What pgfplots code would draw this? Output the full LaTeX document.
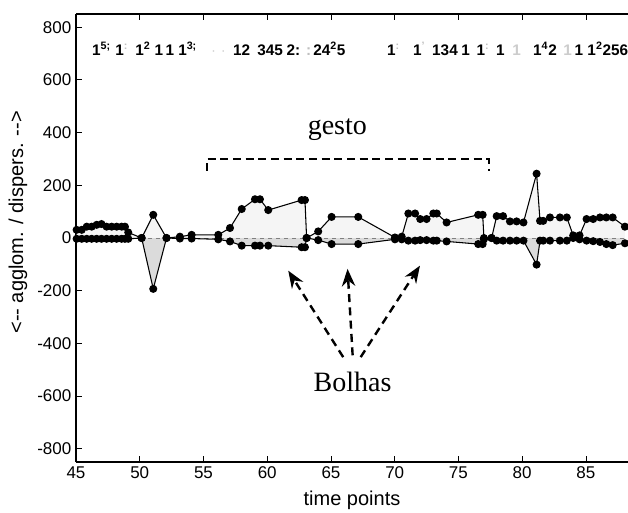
\documentclass[border=0pt]{standalone}
\usepackage{pgfplots}
\pgfplotsset{compat=1.18}
\usepackage{pgfplotstable}
\usepackage{fontspec}
\setmainfont{Liberation Sans}
\newfontfamily\timesfont{Liberation Serif}
\usetikzlibrary{arrows.meta}

\pgfplotstableread{
x y
45.05 31
45.45 31
45.84 43
46.23 43
46.62 50
47.0 53
47.4 43
47.8 43
48.19 43
48.58 43
48.84 43
49.1 21
50.15 0
51.06 88
52.1 0
53.15 5
54.07 12
56.16 12
57.08 38
58.0 110
59.04 147
59.43 147
60.08 106
62.7 144
62.96 144
63.09 0
64.0 25
65.05 80
67.14 80
70.02 2
70.55 5
71.07 93
71.6 93
72.0 72
72.5 72
73.03 93
73.3 93
74.07 59
76.55 88
76.9 88
77.0 0
77.6 0
78.0 83
78.5 83
79.04 63
79.56 63
80.1 59
81.13 244
81.4 65
81.65 65
82.18 78
82.96 78
83.5 78
84.0 10
84.5 10
85.05 72
85.57 72
86.1 78
86.6 78
87.1 78
88.06 43
}\upperdata

\pgfplotstableread{
x y
45.05 -3
45.45 -3
45.84 -3
46.23 -3
46.62 -3
47.0 -3
47.4 -3
47.8 -3
48.19 -3
48.58 -3
48.84 -3
49.1 -3
50.15 0
51.06 -193
52.1 0
53.15 -2
54.07 -2
56.16 -5
57.08 -13
58.0 -29
59.04 -29
59.43 -29
60.08 -29
62.7 -35
62.96 -35
63.09 0
64.0 -8
65.05 -23
67.14 -23
70.02 -5
70.55 -5
71.07 -10
71.6 -10
72.0 -8
72.5 -8
73.03 -10
73.3 -10
74.07 -13
76.55 -23
76.9 -23
77.0 -5
77.6 0
78.0 -10
78.5 -10
79.04 -10
79.56 -10
80.1 -10
81.13 -101
81.4 -10
81.65 -10
82.18 -10
82.96 -10
83.5 -10
84.0 0
84.5 -5
85.05 -10
85.57 -12
86.1 -15
86.6 -23
87.1 -27
88.06 -20
}\lowerdata

\begin{document}
\begin{tikzpicture}
\begin{axis}[
  name=ax,
  scale only axis,
  width=414pt, height=336pt,
  xmin=45, xmax=88.3,
  ymin=-850, ymax=850,
  axis x line=box,
  axis y line=left,
  axis line style={-, black, line width=0.8pt},
  xtick={45,50,...,85},
  ytick={-800,-600,...,800},
  tick align=inside,
  major tick length=4.5pt,
  tick style={black, line width=0.6pt},
  /pgf/number format/assume math mode=true,
  ticklabel style={font=\fontsize{12.75}{14}\selectfont},
  xlabel={time points},
  ylabel={<-{}- agglom. / dispers. -{}->},
  label style={font=\fontsize{15}{17}\selectfont},
  xlabel style={at={(axis description cs:0.5,0)}, anchor=center, yshift=-28.5pt},
  ylabel style={at={(axis description cs:0,0.535)}, anchor=center, yshift=43.5pt},
  clip=true,
]
\addplot[draw=none, fill=gray!8] table[x=x,y=y]{\upperdata} \closedcycle;
\addplot[draw=none, fill=gray!28] table[x=x,y=y]{\lowerdata} \closedcycle;
\addplot[gray, dashed, line width=0.4pt] coordinates {(45,0) (88.3,0)};
\addplot[black, line width=0.8pt, mark=*, mark size=2.6pt, mark options={solid, fill=black}] table[x=x,y=y]{\upperdata};
\addplot[black, line width=0.8pt, mark=*, mark size=2.6pt, mark options={solid, fill=black}] table[x=x,y=y]{\lowerdata};

% gesto bracket
\draw[line width=1.8pt, dash pattern=on 6pt off 3.5pt] (axis cs:55.27,255) -- (axis cs:55.27,300) -- (axis cs:77.4,300) -- (axis cs:77.4,255);
\node[font=\timesfont\fontsize{21}{24}\selectfont] at (axis cs:65.5,413) {gesto};

% Bolhas arrows
\draw[line width=1.8pt, dash pattern=on 6pt off 4pt, -{Stealth[length=13pt,width=10pt]}] (axis cs:65.96,-452) -- (axis cs:61.65,-124);
\draw[line width=1.8pt, dash pattern=on 6pt off 4pt, -{Stealth[length=13pt,width=10pt]}] (axis cs:66.7,-445) -- (axis cs:66.3,-117);
\draw[line width=1.8pt, dash pattern=on 6pt off 4pt, -{Stealth[length=13pt,width=10pt]}] (axis cs:67.33,-452) -- (axis cs:71.98,-105);
\node[font=\timesfont\fontsize{21}{24}\selectfont] at (axis cs:66.7,-546) {Bolhas};

% annotation row
\begin{scope}[every node/.style={anchor=base west, inner sep=0pt, font=\bfseries\fontsize{11.5}{13}\selectfont}]
\node at (axis cs:46.25,692) {1\textsuperscript{5;}};
\node at (axis cs:48.06,692) {1\textsuperscript{\textcolor{gray!50}{:}}};
\node at (axis cs:49.63,692) {1\textsuperscript{2}};
\node at (axis cs:51.15,692) {1};
\node at (axis cs:52.0,692) {1};
\node at (axis cs:53.0,692) {1\textsuperscript{3;}};
\node at (axis cs:55.59,692) {\textcolor{gray!40}{$\cdot$}};
\node at (axis cs:56.37,692) {\textcolor{gray!40}{$\cdot$}};
\node at (axis cs:57.31,692) {12};
\node at (axis cs:59.2,692) {345};
\node at (axis cs:61.5,692) {2:};
\node at (axis cs:63.04,692) {\textcolor{gray!50}{:}};
\node at (axis cs:63.59,692) {24\textsuperscript{2}5};
\node at (axis cs:69.39,692) {1\textsuperscript{\textcolor{gray!50}{:}}};
\node at (axis cs:71.43,692) {1\textsuperscript{\textcolor{gray!50}{'}}};
\node at (axis cs:72.92,692) {134};
\node at (axis cs:75.2,692) {1};
\node at (axis cs:76.4,692) {1\textsuperscript{\textcolor{gray!50}{:}}};
\node at (axis cs:77.94,692) {1};
\node at (axis cs:79.2,692) {\textcolor{gray!40}{1}};
\node at (axis cs:80.84,692) {1\textsuperscript{4}2};
\node at (axis cs:83.2,692) {\textcolor{gray!40}{1}};
\node at (axis cs:84.1,692) {1};
\node at (axis cs:85.1,692) {1\textsuperscript{2}256};
\end{scope}
\end{axis}
\pgfresetboundingbox
\path ([xshift=-57pt,yshift=-37.5pt]ax.south west) rectangle ([yshift=10.5pt]ax.north east);
\end{tikzpicture}
\end{document}
